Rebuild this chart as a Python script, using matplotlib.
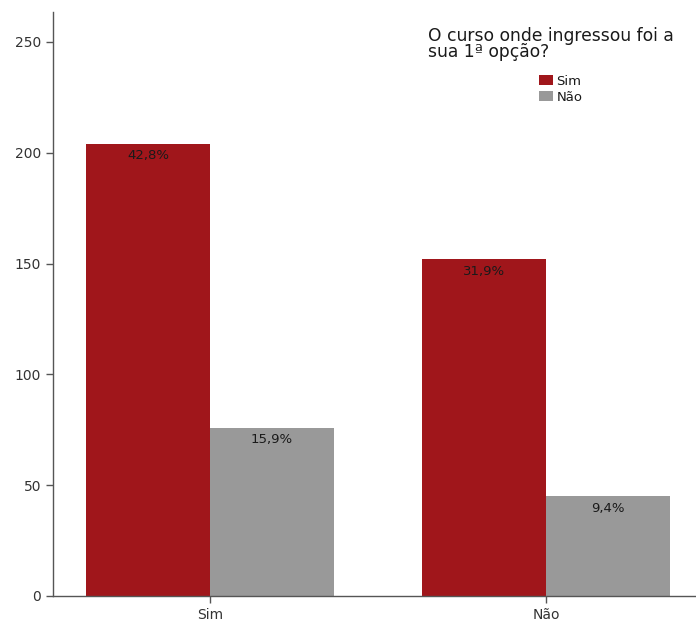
import numpy as np
import matplotlib
matplotlib.use("Agg")
import matplotlib.pyplot as plt

# respostas cruzadas: grupo no eixo x, 1a opcao (Sim/Nao) como serie
groups = ["Sim", "Não"]
series = ["Sim", "Não"]
count_sim = [204, 152]
count_nao = [76, 45]
legend_title = "O curso onde ingressou foi a\nsua 1ª opção?"

colors = ["#A0161B", "#999999"]

plt.rcParams["font.family"] = ["DejaVu Sans"]

total = sum(count_sim) + sum(count_nao)

fig = plt.figure(figsize=(6.96, 6.21), dpi=100)
ax = fig.add_axes([0.0761, 0.0403, 0.9239, 0.9404])

x = np.arange(len(groups))
w = 0.369
b1 = ax.bar(x - w / 2, count_sim, w, color=colors[0], label=series[0])
b2 = ax.bar(x + w / 2, count_nao, w, color=colors[1], label=series[1])

for bars, vals in ((b1, count_sim), (b2, count_nao)):
    for rect, v in zip(bars, vals):
        pct = f"{v / total * 100:.1f}%".replace(".", ",")
        ax.annotate(pct, (rect.get_x() + rect.get_width() / 2, v),
                    xytext=(0, -4), textcoords="offset points",
                    ha="center", va="top", fontsize=9.5, color="#1a1a1a")

ax.set_xlim(-0.467, 1.446)
ax.set_ylim(0, 263.5)
ax.set_yticks([0, 50, 100, 150, 200, 250])
ax.set_xticks(x)
ax.set_xticklabels(groups)

for s in ("top", "right"):
    ax.spines[s].set_visible(False)
for s in ("left", "bottom"):
    ax.spines[s].set_color("#555555")
    ax.spines[s].set_linewidth(1.0)
ax.tick_params(axis="both", colors="#555555", labelcolor="#333333",
               labelsize=10, length=5, width=1.0)

# titulo da legenda separado, alinhado a esquerda
fig.text(0.615, 0.957, legend_title, ha="left", va="top", fontsize=12.3,
         linespacing=0.85, color="#1a1a1a")
leg = ax.legend(loc="upper left", bbox_to_anchor=(0.775, 0.880),
                bbox_transform=fig.transFigure,
                frameon=False, fontsize=9.5,
                handlelength=1.0, handleheight=0.8, handletextpad=0.3,
                labelspacing=0.25, borderpad=0, borderaxespad=0)
for t in leg.get_texts():
    t.set_color("#1a1a1a")

fig.savefig("out.png", dpi=100)
